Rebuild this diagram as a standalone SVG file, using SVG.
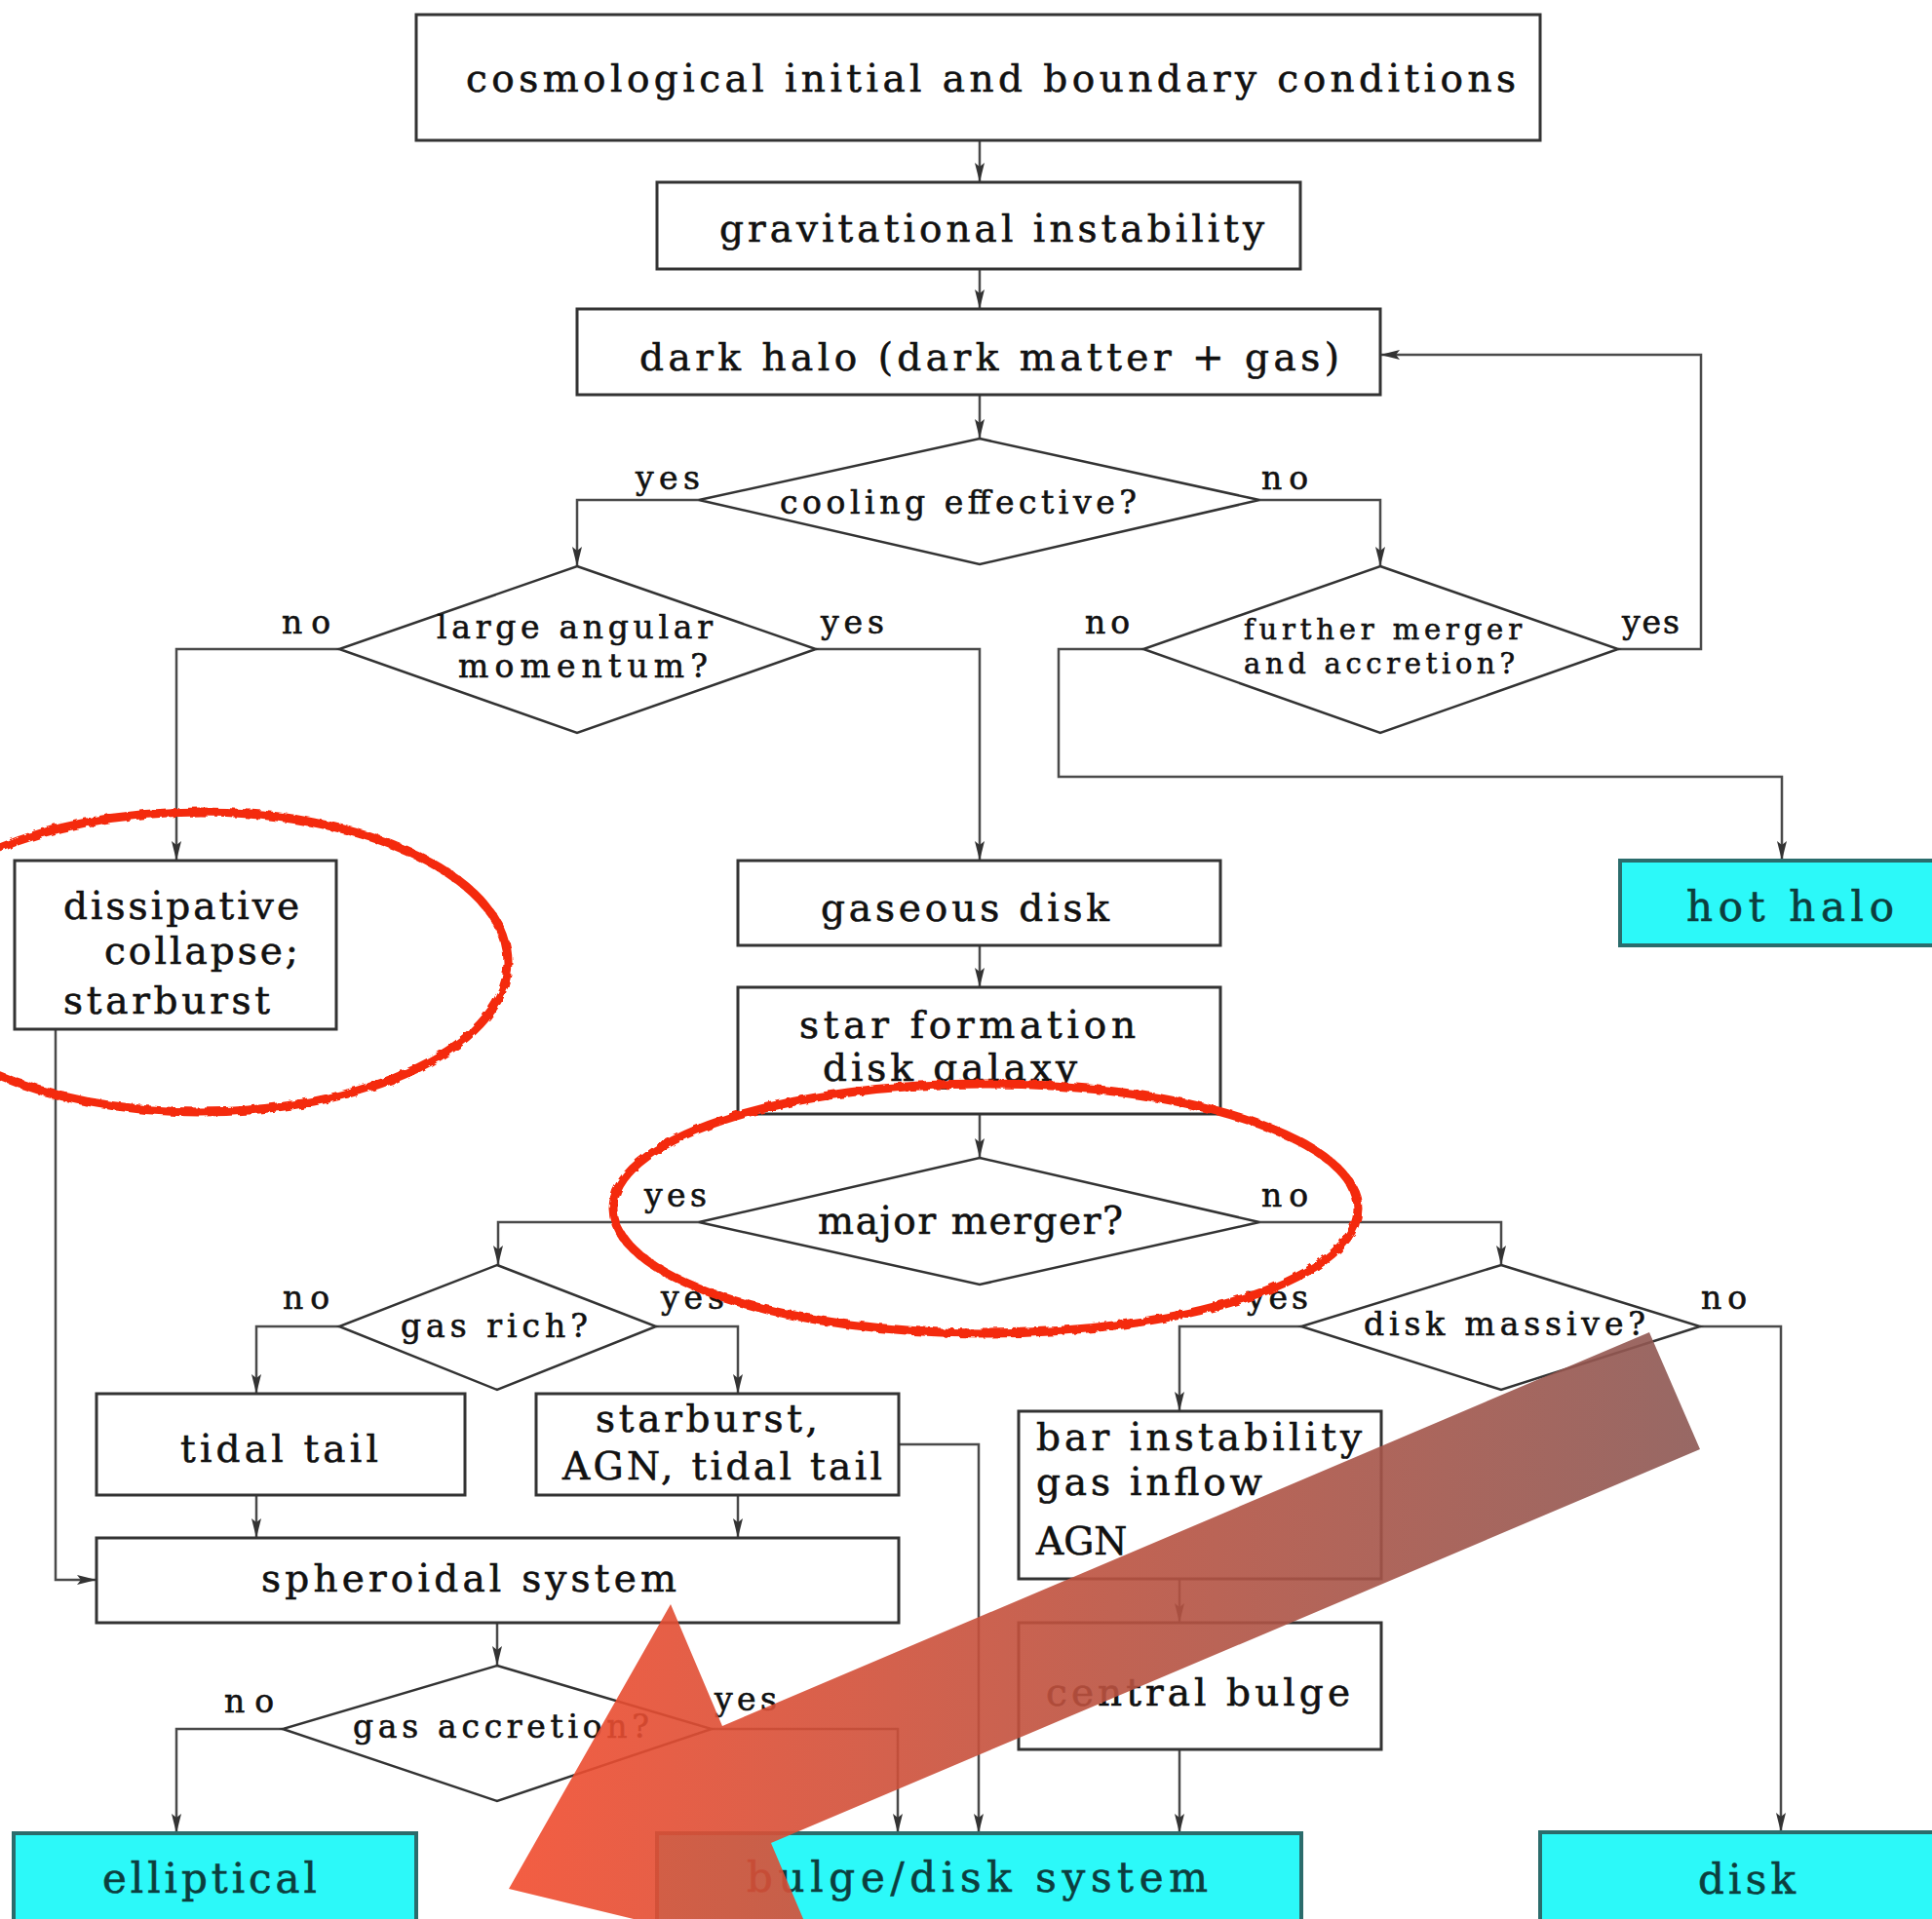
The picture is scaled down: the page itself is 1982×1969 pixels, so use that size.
<svg xmlns="http://www.w3.org/2000/svg" width="1982" height="1969" viewBox="0 0 1982 1969">
<style>
.box{fill:#fff;stroke:#333;stroke-width:3}
.cyan{fill:#2cf9f9;stroke:#2b6c6c;stroke-width:4}
.dia{fill:#fff;stroke:#333;stroke-width:2.5}
text{font-family:"DejaVu Serif","Liberation Serif",serif;fill:#111;stroke:#111;stroke-width:0.6}
.t{font-size:39px}
.d{font-size:33px}
.s{font-size:29px}
.l{font-size:33px}
.c{font-size:42px;fill:#0c3e3e;stroke:#0c3e3e}
.conn path{fill:none;stroke:#4a4a4a;stroke-width:2.5;marker-end:url(#ah)}
.ring{fill:none;stroke:#f42b0e;stroke-width:9}
</style>
<defs>
<marker id="ah" markerUnits="userSpaceOnUse" markerWidth="22" markerHeight="14" refX="20" refY="7" orient="auto">
<path d="M0,2 L20,7 L0,12 L4,7 Z" fill="#333"/>
</marker>
<linearGradient id="ag" gradientUnits="userSpaceOnUse" x1="520" y1="0" x2="1750" y2="0">
<stop offset="0" stop-color="#f24c2e"/>
<stop offset="0.5" stop-color="#bb5240"/>
<stop offset="1" stop-color="#8c5854"/>
</linearGradient>
<filter id="rough" x="-10%" y="-10%" width="120%" height="120%">
<feTurbulence type="fractalNoise" baseFrequency="0.12" numOctaves="2" seed="3"/>
<feDisplacementMap in="SourceGraphic" scale="5"/>
</filter>
</defs>
<rect width="1982" height="1969" fill="#fff"/>

<g id="connectors" class="conn">
<path d="M1005,144 V187"/>
<path d="M1005,276 V317"/>
<path d="M1005,405 V450"/>
<path d="M717,513 H592 V581"/>
<path d="M1292,513 H1416 V581"/>
<path d="M348,666 H181 V883"/>
<path d="M837,666 H1005 V883"/>
<path d="M1173,666 H1086 V797 H1828 V883"/>
<path d="M1660,666 H1745 V364 H1416"/>
<path d="M1005,970 V1013"/>
<path d="M1005,1143 V1188"/>
<path d="M717,1254 H511 V1298"/>
<path d="M1292,1254 H1540 V1298"/>
<path d="M348,1361 H263 V1430"/>
<path d="M673,1361 H757 V1430"/>
<path d="M263,1534 V1578"/>
<path d="M757,1534 V1578"/>
<path d="M57,1056 V1621 H99"/>
<path d="M922,1482 H1004 V1881"/>
<path d="M510,1665 V1709"/>
<path d="M290,1774 H181 V1881"/>
<path d="M730,1774 H921 V1881"/>
<path d="M1335,1361 H1210 V1448"/>
<path d="M1744,1361 H1827 V1880"/>
<path d="M1210,1620 V1665"/>
<path d="M1210,1795 V1881"/>
</g>

<g id="n-cosmo"><rect class="box" x="427" y="15" width="1153" height="129"/>
<text class="t" x="478" y="94" textLength="1077" lengthAdjust="spacing">cosmological initial and boundary conditions</text></g>
<g id="n-grav"><rect class="box" x="674" y="187" width="660" height="89"/>
<text class="t" x="738" y="248" textLength="559" lengthAdjust="spacing">gravitational instability</text></g>
<g id="n-halo"><rect class="box" x="592" y="317" width="824" height="88"/>
<text class="t" x="656" y="380" textLength="718" lengthAdjust="spacing">dark halo (dark matter + gas)</text></g>
<g id="n-cooling"><polygon class="dia" points="1005,450 1292,513 1005,579 717,513"/>
<text class="d" x="800" y="527" textLength="366" lengthAdjust="spacing">cooling effective?</text>
<text class="l" x="652" y="502" textLength="66" lengthAdjust="spacing">yes</text>
<text class="l" x="1294" y="502" textLength="48" lengthAdjust="spacing">no</text></g>
<g id="n-angular"><polygon class="dia" points="592,581 837,666 592,752 348,666"/>
<text class="d" x="448" y="655" textLength="283" lengthAdjust="spacing">large angular</text>
<text class="d" x="470" y="695" textLength="256" lengthAdjust="spacing">momentum?</text>
<text class="l" x="289" y="650" textLength="50" lengthAdjust="spacing">no</text>
<text class="l" x="842" y="650" textLength="65" lengthAdjust="spacing">yes</text></g>
<g id="n-further"><polygon class="dia" points="1416,581 1660,666 1416,752 1173,666"/>
<text class="s" x="1276" y="656" textLength="285" lengthAdjust="spacing">further merger</text>
<text class="s" x="1276" y="691" textLength="278" lengthAdjust="spacing">and accretion?</text>
<text class="l" x="1113" y="650" textLength="46" lengthAdjust="spacing">no</text>
<text class="l" x="1664" y="650" textLength="59" lengthAdjust="spacing">yes</text></g>
<g id="n-dissipative"><rect class="box" x="15" y="883" width="330" height="173"/>
<text class="t" x="65" y="943" textLength="242" lengthAdjust="spacing">dissipative</text>
<text class="t" x="107" y="989" textLength="199" lengthAdjust="spacing">collapse;</text>
<text class="t" x="65" y="1040" textLength="212" lengthAdjust="spacing">starburst</text></g>
<g id="n-hothalo"><rect class="cyan" x="1662" y="883" width="330" height="87"/>
<text class="c" x="1730" y="945" textLength="213" lengthAdjust="spacing">hot halo</text></g>
<g id="n-gaseous"><rect class="box" x="757" y="883" width="495" height="87"/>
<text class="t" x="842" y="945" textLength="296" lengthAdjust="spacing">gaseous disk</text></g>
<g id="n-starform"><rect class="box" x="757" y="1013" width="495" height="130"/>
<text class="t" x="820" y="1065" textLength="345" lengthAdjust="spacing">star formation</text>
<text class="t" x="844" y="1109" textLength="261" lengthAdjust="spacing">disk galaxy</text></g>
<g id="n-major"><polygon class="dia" points="1005,1188 1292,1254 1005,1318 717,1254"/>
<text class="t" x="839" y="1266" textLength="313" lengthAdjust="spacing">major merger?</text>
<text class="l" x="661" y="1238" textLength="64" lengthAdjust="spacing">yes</text>
<text class="l" x="1294" y="1238" textLength="48" lengthAdjust="spacing">no</text></g>
<g id="n-gasrich"><polygon class="dia" points="510,1298 673,1361 510,1426 348,1361"/>
<text class="d" x="411" y="1372" textLength="192" lengthAdjust="spacing">gas rich?</text>
<text class="l" x="290" y="1343" textLength="48" lengthAdjust="spacing">no</text>
<text class="l" x="678" y="1343" textLength="65" lengthAdjust="spacing">yes</text></g>
<g id="n-diskmassive"><polygon class="dia" points="1540,1298 1744,1361 1540,1426 1335,1361"/>
<text class="d" x="1399" y="1370" textLength="289" lengthAdjust="spacing">disk massive?</text>
<text class="l" x="1279" y="1343" textLength="63" lengthAdjust="spacing">yes</text>
<text class="l" x="1745" y="1343" textLength="47" lengthAdjust="spacing">no</text></g>
<g id="n-tidal"><rect class="box" x="99" y="1430" width="378" height="104"/>
<text class="t" x="185" y="1500" textLength="203" lengthAdjust="spacing">tidal tail</text></g>
<g id="n-starburst"><rect class="box" x="550" y="1430" width="372" height="104"/>
<text class="t" x="611" y="1469" textLength="228" lengthAdjust="spacing">starburst,</text>
<text class="t" x="577" y="1518" textLength="328" lengthAdjust="spacing">AGN, tidal tail</text></g>
<g id="n-bar"><rect class="box" x="1045" y="1448" width="372" height="172"/>
<text class="t" x="1063" y="1488" textLength="334" lengthAdjust="spacing">bar instability</text>
<text class="t" x="1063" y="1534" textLength="232" lengthAdjust="spacing">gas inflow</text>
<text class="t" x="1063" y="1595">AGN</text></g>
<g id="n-spheroidal"><rect class="box" x="99" y="1578" width="823" height="87"/>
<text class="t" x="268" y="1633" textLength="426" lengthAdjust="spacing">spheroidal system</text></g>
<g id="n-bulge"><rect class="box" x="1045" y="1665" width="372" height="130"/>
<text class="t" x="1073" y="1750" textLength="312" lengthAdjust="spacing">central bulge</text></g>
<g id="n-accretion"><polygon class="dia" points="510,1709 730,1774 510,1848 290,1774"/>
<text class="d" x="362" y="1783" textLength="304" lengthAdjust="spacing">gas accretion?</text>
<text class="l" x="230" y="1757" textLength="51" lengthAdjust="spacing">no</text>
<text class="l" x="733" y="1755" textLength="64" lengthAdjust="spacing">yes</text></g>
<g id="n-elliptical"><rect class="cyan" x="14" y="1881" width="413" height="100"/>
<text class="c" x="105" y="1942" textLength="220" lengthAdjust="spacing">elliptical</text></g>
<g id="n-bulgedisk"><rect class="cyan" x="674" y="1881" width="661" height="100"/>
<text class="c" x="766" y="1941" textLength="473" lengthAdjust="spacing">bulge/disk system</text></g>
<g id="n-disk"><rect class="cyan" x="1580" y="1880" width="412" height="100"/>
<text class="c" x="1742" y="1943" textLength="100" lengthAdjust="spacing">disk</text></g>

<g id="annotations">
<ellipse class="ring" cx="205" cy="987" rx="316" ry="154" filter="url(#rough)"/>
<ellipse class="ring" cx="1011" cy="1240" rx="382" ry="128" filter="url(#rough)"/>
<polygon points="1692,1367 1744,1487 791,1891 844,2016 522,1938 688,1646 741,1771" fill="url(#ag)" fill-opacity="0.9"/>
</g>
</svg>
